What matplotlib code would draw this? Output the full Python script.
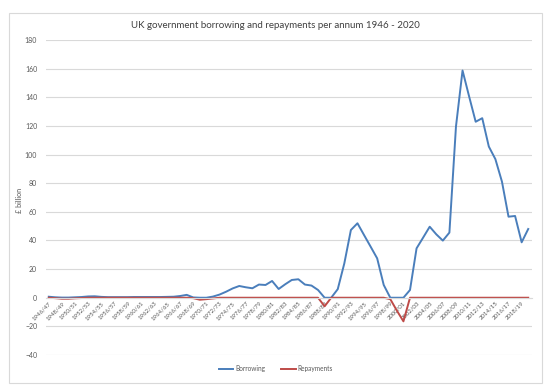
## Imports
import numpy as np
import matplotlib.pyplot as plt
from matplotlib.patches import Rectangle

plt.rcParams['font.family'] = ['Lato', 'DejaVu Sans']

## Data (GBP billion)
years = [f"{y}/{str(y + 1)[-2:]}" for y in range(1946, 2020)]

borrowing = [0.7, 0.3, 0.1, 0.1, 0.3, 0.5, 0.9, 1.0, 0.6, 0.4,
             0.4, 0.4, 0.4, 0.5, 0.5, 0.5, 0.5, 0.5, 0.6, 0.7,
             1.2, 2.0, 0.2, 0.0, 0.0, 0.8, 2.2, 4.2, 6.5, 8.2,
             7.3, 6.6, 9.2, 8.9, 11.7, 6.1, 9.4, 12.4, 12.9, 9.2,
             8.5, 5.4, 0.0, 0.0, 6.0, 24.0, 47.3, 52.0, 43.8, 35.7,
             27.5, 8.9, 0.0, 0.0, 0.0, 5.4, 34.5, 42.0, 49.6, 44.3,
             39.9, 45.5, 119.6, 158.7, 140.6, 122.9, 125.4, 105.6, 96.8, 81.1,
             56.6, 57.1, 38.7, 48.0]

repayments = [0.0, -0.3, -0.7, -0.7, -0.4, -0.2, 0.0, 0.0, 0.0, 0.0,
              0.0, 0.0, 0.0, 0.0, 0.0, 0.0, 0.0, 0.0, 0.0, 0.0,
              0.0, 0.0, -0.3, -1.4, -1.0, -0.5, 0.0, 0.0, 0.0, 0.0,
              0.0, 0.0, 0.0, 0.0, 0.0, 0.0, 0.0, 0.0, 0.0, 0.0,
              0.0, 0.0, -6.0, 0.0, 0.0, 0.0, 0.0, 0.0, 0.0, 0.0,
              0.0, 0.0, -1.0, -9.0, -16.5, 0.0, 0.0, 0.0, 0.0, 0.0,
              0.0, 0.0, 0.0, 0.0, 0.0, 0.0, 0.0, 0.0, 0.0, 0.0,
              0.0, 0.0, 0.0, 0.0]

x = np.arange(len(years))

## Figure
fig = plt.figure(figsize=(5.5, 3.9), dpi=100)
ax = fig.add_axes([45.5 / 550, 1 - 355 / 390, 486 / 550, 315 / 390])

# chart area border like the spreadsheet one
fig.patches.append(Rectangle((9 / 550, 1 - 383 / 390), 533 / 550, 370 / 390,
                             transform=fig.transFigure, fill=False,
                             edgecolor='#d9d9d9', linewidth=0.8))

ax.plot(x, borrowing, color='#4a7ebb', linewidth=1.4, label='Borrowing')
ax.plot(x, repayments, color='#be4b48', linewidth=1.4, label='Repayments')

ax.set_xlim(-0.5, len(years) - 0.5)
ax.set_ylim(-40, 180)
ax.set_yticks(np.arange(-40, 181, 20))
ax.grid(True, axis='y', color='#d9d9d9', linewidth=0.8)
ax.set_axisbelow(True)

for s in ['top', 'right', 'left']:
    ax.spines[s].set_visible(False)
ax.spines['bottom'].set_position(('data', 0))
ax.spines['bottom'].set_color('#d9d9d9')

ax.set_xticks(x[::2])
ax.set_xticklabels(years[::2], rotation=45, ha='right', rotation_mode='anchor',
                   fontsize=4.3, color='#595959')
ax.tick_params(axis='x', length=0, pad=2)
ax.tick_params(axis='y', length=0, labelsize=5, labelcolor='#595959', pad=6)

ax.set_ylabel('£ billion', fontsize=5.2, color='#595959')
ax.yaxis.set_label_coords(-0.046, 0.492)

fig.text(0.5, 1 - 26 / 390, 'UK government borrowing and repayments per annum 1946 - 2020',
         ha='center', va='center', fontsize=7, color='#404040')

fig.legend(loc='center', bbox_to_anchor=(276 / 550, 1 - 369 / 390), ncol=2,
           frameon=False, fontsize=4.7, handlelength=2.2, handletextpad=0.3,
           columnspacing=2.5, labelcolor='#595959')

plt.savefig('out.png')
